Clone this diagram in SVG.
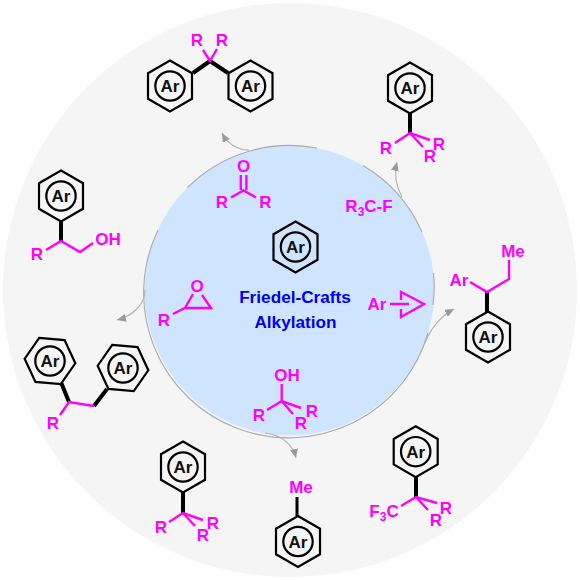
<svg xmlns="http://www.w3.org/2000/svg" width="580" height="580" viewBox="0 0 580 580">
<style>
.k{fill:none;stroke:#000;stroke-width:2.2;stroke-linejoin:miter}
.b{fill:none;stroke:#000;stroke-width:4}
.m{fill:none;stroke:#f0f;stroke-width:2.4;stroke-linejoin:miter}
text{font-family:"Liberation Sans",Arial,sans-serif;text-anchor:middle}
.ar{font-size:17px;fill:#111;font-weight:bold;stroke:none}
.l{font-size:17px;fill:#f0f;font-weight:bold}
.t{font-size:17.2px;fill:#0000f0;font-weight:bold}
.edge{fill:none;stroke:#aaa;stroke-width:1.1}
.arrow{fill:none;stroke:#b0b0b0;stroke-width:1.1;marker-end:url(#head)}
</style>
<defs>
<marker id="head" markerUnits="userSpaceOnUse" markerWidth="10" markerHeight="8" refX="9" refY="4" orient="auto"><path d="M0,0L9,4L0,8Z" fill="#999"/></marker>
<g id="hex"><polygon class="k" points="0,-25.5 22,-12.75 22,12.75 0,25.5 -22,12.75 -22,-12.75"/><circle class="k" r="14.7"/></g>
<polygon id="hexr" class="k" points="0,-25.5 22,-12.75 22,12.75 0,25.5 -22,12.75 -22,-12.75" transform="rotate(-25)"/>
</defs>
<circle cx="290" cy="290" r="287" fill="#f5f5f5"/>
<circle cx="289.5" cy="290.5" r="145" fill="#cfe5ff"/>
<path class="edge" d="M187.5,187.5A145,145 0 0 1 317,148M363,165.5A145,145 0 0 1 422,232M433.5,273A145,145 0 0 1 433,305M428,333A145,145 0 1 1 158,230"/>
<g id="connectors">
<path class="arrow" d="M249,150C236,150 228,144 222,133"/>
<path class="arrow" d="M402,197C396,186 394,174 397,162"/>
<path class="arrow" d="M145,290C145,304 133,316 117,320"/>
<path class="arrow" d="M265,433C282,435 293,445 296,458"/>
<path class="arrow" d="M425,343C431,328 441,316 454,309"/>
</g>
<g id="center"><use href="#hex" x="295.5" y="247"/><text class="ar" x="295.5" y="253">Ar</text>
<text class="t" x="295" y="303">Friedel-Crafts</text><text class="t" x="295.5" y="328">Alkylation</text></g>
<g id="ketone"><path class="m" d="M240.8,175V190M246.4,175V190M231,197.5L243.5,190.5L256,197.5"/><text class="l" x="243.5" y="172">O</text><text class="l" x="222" y="208">R</text><text class="l" x="265.5" y="208">R</text></g>
<g id="epoxide"><path class="m" d="M173,314L185,308H211L202,295M185,308L193,294"/><text class="l" x="197" y="292">O</text><text class="l" x="164" y="326">R</text></g>
<g id="fluoride"><text class="l" x="369" y="212">R<tspan font-size="12" dy="4">3</tspan><tspan dy="-4">C-F</tspan></text></g>
<g id="cyclopropane"><path class="m" d="M390,304H409M401,300V292L424,304L401,317V309"/><text class="l" x="377" y="310">Ar</text></g>
<g id="alcohol"><path class="m" d="M281.7,384V401M267,410L281.7,401L301,408M281.7,401L293,414"/><text class="l" x="287" y="381">OH</text><text class="l" x="259" y="421">R</text><text class="l" x="312" y="417">R</text><text class="l" x="301" y="429">R</text></g>
<g id="top-product"><use href="#hex" x="170" y="86"/><text class="ar" x="170" y="92">Ar</text><use href="#hex" x="250.5" y="86"/><text class="ar" x="250.5" y="92">Ar</text>
<path class="b" d="M193,73L210,61L228,73"/><path class="m" d="M203,50L210,61L217,49"/><text class="l" x="197" y="46">R</text><text class="l" x="222" y="46">R</text></g>
<g id="upper-right-product"><use href="#hex" x="410" y="88"/><text class="ar" x="410" y="94">Ar</text><path class="b" d="M410,113V133"/>
<path class="m" d="M395,143L410,133L430,140M410,133L423,147"/><text class="l" x="386" y="154">R</text><text class="l" x="439" y="150">R</text><text class="l" x="430" y="162">R</text></g>
<g id="left-product"><use href="#hex" x="61" y="196"/><text class="ar" x="61" y="202">Ar</text><path class="b" d="M61,221V241"/>
<path class="m" d="M46,250L61,241L80,252L93,243"/><text class="l" x="37" y="260">R</text><text class="l" x="108" y="245">OH</text></g>
<g id="lower-left-product"><use href="#hexr" x="50" y="361"/><circle class="k" cx="50" cy="361" r="14.7"/><text class="ar" x="50" y="367">Ar</text>
<use href="#hexr" x="123" y="368"/><circle class="k" cx="123" cy="368" r="14.7"/><text class="ar" x="123" y="374">Ar</text>
<path class="b" d="M61.5,383.5L69,402M94,406L107,389"/><path class="m" d="M94,406L69,402L60,415"/><text class="l" x="53" y="429">R</text></g>
<g id="bottom-left-product"><use href="#hex" x="183" y="467"/><text class="ar" x="183" y="473">Ar</text><path class="b" d="M183,492V513"/>
<path class="m" d="M169,522L183,513L203,520M183,513L195,526"/><text class="l" x="161" y="533">R</text><text class="l" x="213" y="529">R</text><text class="l" x="203" y="541">R</text></g>
<g id="toluene"><use href="#hex" x="298" y="541.5"/><text class="ar" x="298" y="547.5">Ar</text><path class="k" style="stroke-width:3" d="M297,497V516"/><text class="l" x="301" y="493">Me</text></g>
<g id="right-product"><use href="#hex" x="488" y="337"/><text class="ar" x="488" y="343">Ar</text><path class="b" d="M487,292V312"/>
<path class="m" d="M470,282L487,292L509,279V260"/><text class="l" x="459" y="286">Ar</text><text class="l" x="513" y="257">Me</text></g>
<g id="lower-right-product"><use href="#hex" x="415.7" y="451.7"/><text class="ar" x="415.7" y="457.7">Ar</text><path class="b" d="M416,477V497"/>
<path class="m" d="M401,506L416,497L437,503M416,497L428,510"/><text class="l" x="384" y="517">F<tspan font-size="12" dy="4">3</tspan><tspan dy="-4">C</tspan></text><text class="l" x="446" y="514">R</text><text class="l" x="436" y="526">R</text></g>
</svg>
